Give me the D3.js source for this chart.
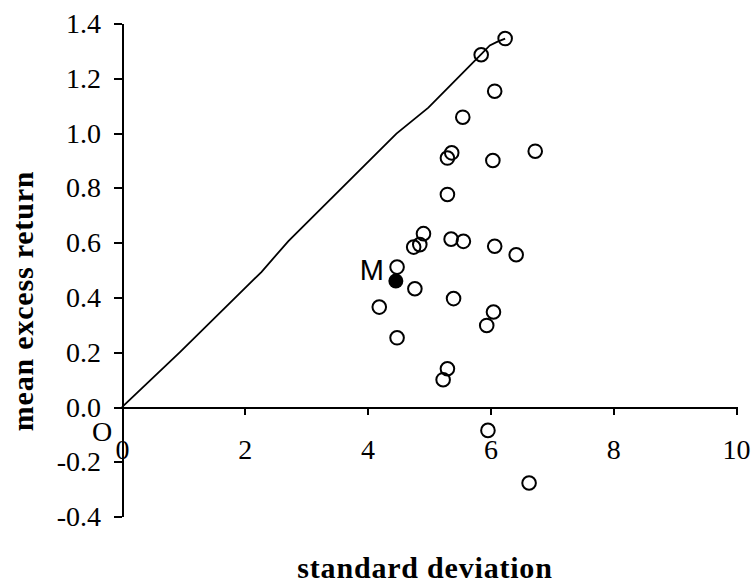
<!DOCTYPE html>
<html lang="en">
<head>
  <meta charset="UTF-8">
  <title>mean excess return vs standard deviation</title>
  <script src="https://cdn.jsdelivr.net/npm/d3@7"></script>
  <style>
    body { margin: 0; background: #fff; }
    .axis path, .axis line { fill: none; stroke: #000; stroke-width: 2px; shape-rendering: crispEdges; }
    .axis text { font-family: "Liberation Serif", "Times New Roman", serif; font-size: 28px; fill: #000; }
    .title { font-family: "Liberation Serif", "Times New Roman", serif; font-weight: bold; font-size: 30px; letter-spacing: 0.8px; }
    .asset { fill: none; stroke: #000; stroke-width: 2px; }
  </style>
</head>
<body>
<script>
  // tick labels
  const xTicks = [0, 2, 4, 6, 8, 10];
  const yTicks = [-0.4, -0.2, 0.0, 0.2, 0.4, 0.6, 0.8, 1.0, 1.2, 1.4];

  // individual assets (std dev, mean excess return)
  const assetSd = [6.24, 5.85, 6.07, 5.55, 5.37, 5.30, 6.04, 6.73, 5.30,
    4.91, 4.85, 4.75, 5.36, 5.56, 6.07, 6.42, 4.48, 4.77, 4.19, 5.40,
    6.05, 5.94, 4.48, 5.30, 5.23, 5.96, 6.63];
  const assetMean = [1.345, 1.286, 1.153, 1.058, 0.928, 0.909, 0.900, 0.934, 0.776,
    0.633, 0.593, 0.584, 0.613, 0.605, 0.587, 0.556, 0.511, 0.432, 0.365, 0.396,
    0.347, 0.298, 0.253, 0.140, 0.100, -0.085, -0.277];

  // market portfolio M
  const marketSd = [4.46];
  const marketMean = [0.46];

  // efficient frontier
  const frontierSd = [0, 0.94, 2.27, 2.71, 4.47, 4.99, 5.86, 5.99, 6.10, 6.24];
  const frontierMean = [0, 0.20, 0.493, 0.606, 0.998, 1.093, 1.29, 1.32, 1.332, 1.345];

  const width = 753, height = 588;
  const svg = d3.select('body').append('svg')
    .attr('width', width)
    .attr('height', height);

  const x = d3.scaleLinear().domain([0, 10]).range([122, 736]);
  const y = d3.scaleLinear().domain([-0.4, 1.4]).range([516.7, 23.5]);

  // y axis
  const gy = svg.append('g')
    .attr('class', 'axis')
    .attr('transform', `translate(${x(0)},0)`)
    .call(d3.axisLeft(y).tickValues(yTicks).tickFormat(d3.format('.1f'))
      .tickSize(8).tickSizeOuter(0).tickPadding(13));
  gy.selectAll('text').text(d => d3.format('.1f')(d).replace('−', '-'));

  // x axis, crossing at y = 0
  const gx = svg.append('g')
    .attr('class', 'axis')
    .attr('transform', `translate(0,${y(0)})`)
    .call(d3.axisBottom(x).tickValues(xTicks).tickFormat(d3.format('d'))
      .tickSize(8).tickSizeOuter(0));
  gx.selectAll('text').attr('y', 52).attr('dy', 0);

  // origin label
  svg.append('text')
    .attr('x', 102).attr('y', y(0) + 34)
    .attr('text-anchor', 'middle')
    .style('font-family', '"Liberation Serif", serif')
    .style('font-size', '28px')
    .text('O');

  // frontier
  const pts = frontierSd.map((d, i) => [d, frontierMean[i]]);
  svg.append('path')
    .datum(pts)
    .attr('fill', 'none')
    .attr('stroke', '#000')
    .attr('stroke-width', 1.8)
    .attr('d', d3.line().x(d => x(d[0])).y(d => y(d[1])));

  // assets
  svg.selectAll('.asset')
    .data(assetSd.map((d, i) => [d, assetMean[i]]))
    .enter()
    .append('circle')
    .attr('class', 'asset')
    .attr('cx', d => x(d[0]))
    .attr('cy', d => y(d[1]))
    .attr('r', 6.8);

  // market portfolio
  svg.selectAll('.market')
    .data(marketSd.map((d, i) => [d, marketMean[i]]))
    .enter()
    .append('circle')
    .attr('class', 'market')
    .attr('cx', d => x(d[0]))
    .attr('cy', d => y(d[1]))
    .attr('r', 7.5)
    .attr('fill', '#000');

  svg.append('text')
    .attr('x', x(marketSd[0]) - 12)
    .attr('y', y(marketMean[0]) - 1)
    .attr('text-anchor', 'end')
    .style('font-family', '"Liberation Sans", Arial, sans-serif')
    .style('font-size', '29px')
    .text('M');

  // axis titles
  svg.append('text')
    .attr('class', 'title')
    .attr('x', 425).attr('y', 578)
    .attr('text-anchor', 'middle')
    .text('standard deviation');

  svg.append('text')
    .attr('class', 'title')
    .attr('transform', 'translate(33,301) rotate(-90)')
    .attr('text-anchor', 'middle')
    .text('mean excess return');
</script>
</body>
</html>
